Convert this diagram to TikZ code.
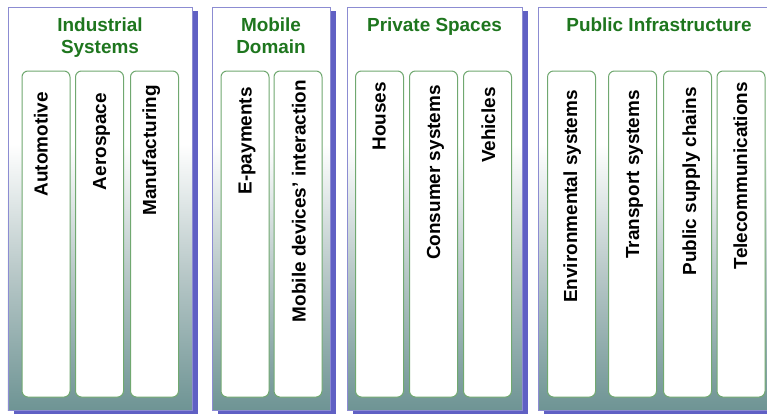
\documentclass[tikz,border=0pt]{standalone}
\usepackage{fontspec}
\setmainfont{Liberation Sans}
\usetikzlibrary{shadows}

\definecolor{titlegreen}{RGB}{30,118,30}
\definecolor{boxgreen}{RGB}{112,168,112}
\definecolor{panelline}{RGB}{140,140,210}
\definecolor{panelbot}{RGB}{110,148,148}
\definecolor{panelmid}{RGB}{184,200,200}
\definecolor{shadowblue}{RGB}{96,96,196}
\pgfdeclareverticalshading{panelshade}{100bp}{color(0bp)=(panelbot); color(25bp)=(panelbot); color(42bp)=(panelmid); color(58bp)=(white); color(100bp)=(white)}

\begin{document}
\begin{tikzpicture}[x=1bp,y=-1bp]
  \useasboundingbox (0,0) rectangle (767,414);
  \clip (0,0) rectangle (767,414);

  % domains
  \begin{scope}[every node/.style={rectangle,draw=panelline,line width=.8bp,shade,shading=panelshade,
      minimum height=403bp,inner sep=0pt,
      drop shadow={shadow xshift=6bp,shadow yshift=-4bp,fill=shadowblue,opacity=1,draw=none}}]
    \node[minimum width=184bp] (p1) at (100,208.5) {};
    \node[minimum width=118bp] (p2) at (271,208.5) {};
    \node[minimum width=175bp] (p3) at (434.5,208.5) {};
    \node[minimum width=242bp] (p4) at (659,208.5) {};
  \end{scope}

  \begin{scope}[every node/.style={font=\fontsize{19}{22}\selectfont\bfseries,text=titlegreen,
      align=center,inner sep=0pt,anchor=north}]
    \node (t1) at (100,18)   {Industrial\\Systems};
    \node (t2) at (271,18)   {Mobile\\Domain};
    \node (t3) at (434.5,18) {Private Spaces};
    \node (t4) at (659,18)   {Public Infrastructure};
  \end{scope}

  % application areas
  \begin{scope}[every node/.style={rectangle,rounded corners=6bp,draw=boxgreen,line width=1bp,
      fill=white,minimum width=48bp,minimum height=326bp,inner sep=0pt}]
    \node (b1)  at (46,234)    {};
    \node (b2)  at (99.5,234)  {};
    \node (b3)  at (154.5,234) {};
    \node (b4)  at (245,234)   {};
    \node (b5)  at (298,234)   {};
    \node (b6)  at (379.5,234) {};
    \node (b7)  at (433.5,234) {};
    \node (b8)  at (487.5,234) {};
    \node (b9)  at (571.5,234) {};
    \node (b10) at (632.5,234) {};
    \node (b11) at (687.5,234) {};
    \node (b12) at (741,234)   {};
  \end{scope}

  \begin{scope}[every node/.style={rotate=90,anchor=base east,inner sep=0pt,
      font=\fontsize{19}{22}\selectfont\bfseries}]
    \node (l1)  at (47.5,92)  {Automotive};
    \node (l2)  at (106,93)   {Aerospace};
    \node (l3)  at (156,85)   {Manufacturing};
    \node (l4)  at (251.5,87) {E-payments};
    \node (l5)  at (305.5,80) {Mobile devices’ interaction};
    \node (l6)  at (385.5,82) {Houses};
    \node (l7)  at (440,85)   {Consumer systems};
    \node (l8)  at (495,87)   {Vehicles};
    \node (l9)  at (577,90)   {Environmental systems};
    \node (l10) at (639,90)   {Transport systems};
    \node (l11) at (696,87)   {Public supply chains};
    \node (l12) at (747,82)   {Telecommunications};
  \end{scope}

\end{tikzpicture}
\end{document}
